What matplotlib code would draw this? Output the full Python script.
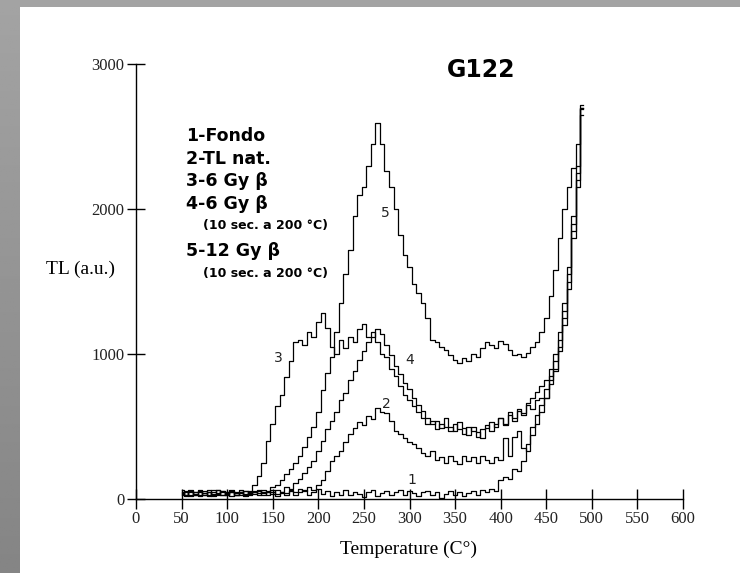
import numpy as np
import matplotlib
matplotlib.use("Agg")
import matplotlib.pyplot as plt
from matplotlib import font_manager
from matplotlib.patches import Rectangle

# ---------------- data ----------------
T_START, T_STEP = 50, 5

fondo = [30, 45, 20, 50, 25, 40, 60, 20, 35, 55,
         25, 45, 30, 50, 20, 40, 55, 25, 45, 30,
         50, 20, 40, 30, 55, 25, 45, 60, 30, 50,
         70, 35, 55, 20, 45, 30, 60, 25, 50, 35,
         15, 45, 60, 20, 40, 55, 30, 50, 60, 25,
         55, 40, 20, 45, 55, 30, 50, 10, 35, 55,
         30, 50, 20, 40, 55, 30, 60, 45, 70, 55,
         130, 150, 140, 210, 190, 260, 380, 440, 520, 600,
         700, 820, 900, 1050, 1250, 1500, 1850, 2200, 2700]

tl_nat = [40, 20, 55, 30, 45, 25, 50, 35, 60, 25,
          40, 55, 30, 45, 25, 50, 35, 55, 30, 45,
          60, 35, 50, 40, 60, 45, 70, 55, 80, 65,
          100, 130, 190, 260, 300, 330, 390, 450, 490, 530,
          510, 570, 550, 630, 600, 590, 540, 470, 450, 420,
          390, 380, 350, 320, 300, 330, 270, 290, 250, 300,
          260, 240, 300, 260, 290, 250, 300, 270, 250, 290,
          270, 420, 300, 430, 470, 350, 330, 500, 580, 650,
          700, 790, 880, 1020, 1200, 1450, 1800, 2150, 2650]

gy6 = [50, 25, 60, 35, 20, 55, 30, 45, 65, 30,
       50, 20, 45, 60, 35, 55, 100, 160, 250, 400,
       520, 640, 720, 840, 950, 1080, 1100, 1060, 1150, 1120,
       1220, 1280, 1180, 1050, 1000, 1100, 1040, 1120, 1080, 1170,
       1210, 1120, 1150, 1080, 1000, 980, 900, 850, 780, 720,
       680, 640, 600, 560, 520, 540, 480, 520, 500, 470,
       520, 480, 450, 500, 470, 430, 480, 510, 470, 520,
       560, 510, 580, 540, 610, 580, 650, 620, 680, 700,
       760, 850, 950, 1100, 1300, 1550, 1900, 2250, 2700]

gy6_anneal = [35, 55, 25, 45, 60, 30, 50, 25, 40, 55,
              35, 60, 25, 40, 55, 30, 45, 60, 40, 55,
              35, 60, 50, 80, 70, 110, 140, 180, 220, 260,
              330, 400, 480, 540, 600, 680, 730, 820, 880, 960,
              1020, 1080, 1120, 1170, 1140, 1060, 990, 920, 860, 800,
              760, 700, 650, 610, 560, 520, 540, 490, 560, 500,
              470, 530, 490, 440, 500, 460, 420, 490, 530, 500,
              560, 520, 600, 560, 620, 590, 660, 700, 740, 780,
              820, 900, 1000, 1150, 1350, 1600, 1950, 2300, 2720]

gy12_anneal = [60, 30, 45, 25, 55, 40, 20, 60, 30, 45,
               25, 50, 40, 25, 55, 35, 50, 40, 65, 50,
               80, 100, 130, 170, 210, 250, 300, 360, 430, 500,
               600, 750, 870, 980, 1150, 1350, 1550, 1720, 1950, 2100,
               2150, 2300, 2450, 2590, 2450, 2260, 2150, 2000, 1820, 1680,
               1600, 1480, 1420, 1350, 1250, 1100, 1080, 1050, 1030, 990,
               960, 940, 970, 950, 1000, 980, 1040, 1080, 1060, 1040,
               1090, 1070, 1030, 990, 1000, 980, 1010, 1050, 1080, 1150,
               1250, 1400, 1580, 1800, 2000, 2150, 2280, 2450, 2690]

series = [fondo, tl_nat, gy6, gy6_anneal, gy12_anneal]
curve_numbers = ["1", "2", "3", "4", "5"]
curve_label_pos = [(303, 131), (275, 655), (156, 970), (300, 960), (274, 1970)]

legend_lines = ["1-Fondo", "2-TL nat.", "3-6 Gy \u03b2", "4-6 Gy \u03b2",
                "(10 sec. a 200 \u00b0C)", "5-12 Gy \u03b2", "(10 sec. a 200 \u00b0C)"]

x_ticks = list(range(0, 601, 50))
y_ticks = [0, 1000, 2000, 3000]
title = "G122"
x_label = "Temperature (C\u00b0)"
y_label = "TL (a.u.)"

# ---------------- figure ----------------
W, H = 740, 573
fig = plt.figure(figsize=(W / 100, H / 100), dpi=100)
fig.patch.set_facecolor("white")

def fpos(x, y):
    return x / W, 1 - y / H

# gray frame (left strip with gradient, top strip)
gax = fig.add_axes([0, 0, 20 / W, 1])
grad = np.linspace(0.64, 0.52, 256).reshape(-1, 1)
gax.imshow(grad, cmap="gray", vmin=0, vmax=1, aspect="auto", extent=[0, 1, 0, 1], origin="upper")
gax.set_axis_off()
fig.patches.append(Rectangle((0, 1 - 7 / H), 1, 7 / H, transform=fig.transFigure,
                             facecolor="#a3a3a3", edgecolor="none", zorder=0))

names = {f.name for f in font_manager.fontManager.ttflist}
tick_family = "Liberation Sans Narrow" if "Liberation Sans Narrow" in names else "Liberation Serif"

x0, x1 = 136, 683
y0, y1 = 499, 64
ax = fig.add_axes([x0 / W, 1 - y0 / H, (x1 - x0) / W, (y0 - y1) / H])
ax.set_facecolor("none")

for vals in series:
    t = np.arange(T_START, T_START + T_STEP * len(vals), T_STEP)
    ax.plot(t, vals, color="black", lw=0.9, drawstyle="steps-mid")

ax.set_xlim(0, 600)
ax.set_ylim(0, 3000)
ax.spines["top"].set_visible(False)
ax.spines["right"].set_visible(False)
for s in ("left", "bottom"):
    ax.spines[s].set_linewidth(1.0)
    ax.spines[s].set_color("black")

ax.set_xticks(x_ticks)
ax.set_yticks(y_ticks)
ax.tick_params(axis="x", direction="inout", length=14, width=1.0, pad=1.5, labelsize=12)
ax.tick_params(axis="y", direction="inout", length=13, width=1.0, pad=2.0, labelsize=12)
for lab in ax.get_xticklabels() + ax.get_yticklabels():
    lab.set_fontfamily(tick_family)
    lab.set_color("#222222")

for num, (tx, ty) in zip(curve_numbers, curve_label_pos):
    ax.text(tx, ty, num, fontsize=10, family="DejaVu Sans", ha="center", va="center",
            color="#222222")

# labels
fig.text(*fpos(80, 269), y_label, family="Liberation Serif", fontsize=14,
         ha="center", va="center")
fig.text(*fpos(408, 549), x_label, family="Liberation Serif", fontsize=14,
         ha="center", va="center")
fig.text(*fpos(481, 70), title, family="DejaVu Sans", fontweight="bold", fontsize=17,
         ha="center", va="center")

legend_pos = [(186, 136), (186, 159), (186, 181), (186, 204), (203, 225), (186, 251), (203, 273)]
for txt, (lx, ly) in zip(legend_lines, legend_pos):
    small = txt.startswith("(")
    fig.text(*fpos(lx, ly), txt, family="DejaVu Sans", fontweight="bold",
             fontsize=9 if small else 12.5, ha="left", va="center")

fig.savefig("out.png", dpi=100, facecolor="white")
